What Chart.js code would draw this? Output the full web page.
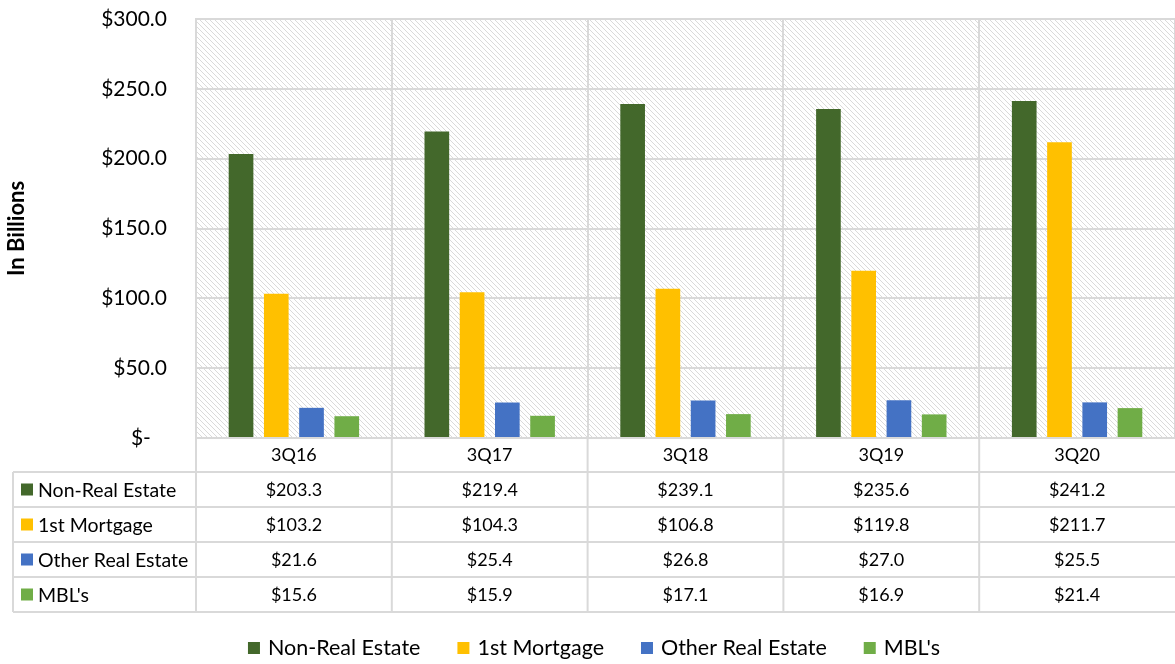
<!DOCTYPE html>
<html lang="en">
<head>
<meta charset="UTF-8">
<title>Loans by Type</title>
<script src="https://cdn.jsdelivr.net/npm/chart.js"></script>
<style>
  body { margin: 0; background: #fff; }
  #wrap { width: 1175px; height: 664px; position: relative; }
</style>
</head>
<body>
<div id="wrap"><canvas id="chart"></canvas></div>
<script>
const categories = ['3Q16', '3Q17', '3Q18', '3Q19', '3Q20'];
const seriesNames = ['Non-Real Estate', '1st Mortgage', 'Other Real Estate', "MBL's"];
const nonRealEstate = [203.3, 219.4, 239.1, 235.6, 241.2];
const firstMortgage = [103.2, 104.3, 106.8, 119.8, 211.7];
const otherRealEstate = [21.6, 25.4, 26.8, 27.0, 25.5];
const mbls = [15.6, 15.9, 17.1, 16.9, 21.4];
const yTicks = [0, 50, 100, 150, 200, 250, 300];

const colors = ['#43682b', '#ffc000', '#4472c4', '#70ad47'];
const gridColor = '#d9d9d9';
const FONT = 'Lato, "Open Sans", sans-serif';

// diagonal hatch for the plot area
const hatch = document.createElement('canvas');
hatch.width = 5; hatch.height = 5;
(function () {
    const g = hatch.getContext('2d');
    g.fillStyle = '#fff';
    g.fillRect(0, 0, 5, 5);
    g.fillStyle = '#dadada';
    for (let i = 0; i < 5; i++) g.fillRect(i, i, 1, 1);
})();

function line(ctx, x1, y1, x2, y2) {
    ctx.beginPath();
    ctx.moveTo(x1, y1);
    ctx.lineTo(x2, y2);
    ctx.stroke();
}

const money = v => '$' + v.toFixed(1);

const tablePlugin = {
    id: 'dataTable',
    beforeDraw(chart) {
        const { ctx, chartArea: a } = chart;
        ctx.save();
        ctx.fillStyle = ctx.createPattern(hatch, 'repeat');
        ctx.fillRect(a.left, a.top, a.right - a.left, a.bottom - a.top);
        ctx.restore();
    },
    afterDraw(chart) {
        const { ctx, chartArea: a } = chart;
        const x = chart.scales.x;
        const rowH = 35;
        const headBottom = a.bottom + 34;
        const tableLeft = 13;
        const tableBottom = headBottom + rowH * 4;
        const rows = [nonRealEstate, firstMortgage, otherRealEstate, mbls];

        ctx.save();
        ctx.strokeStyle = gridColor;
        ctx.lineWidth = 2;
        for (let r = 0; r <= 4; r++) {
            const y = headBottom + r * rowH;
            line(ctx, tableLeft, y, a.right, y);
        }
        line(ctx, tableLeft, headBottom, tableLeft, tableBottom);
        line(ctx, a.left, a.bottom, a.left, tableBottom);
        for (let i = 1; i < categories.length; i++) {
            const xb = (x.getPixelForValue(i - 1) + x.getPixelForValue(i)) / 2;
            line(ctx, xb, a.bottom, xb, tableBottom);
        }

        ctx.textBaseline = 'middle';
        rows.forEach((vals, r) => {
            const cy = headBottom + r * rowH + rowH / 2;
            ctx.fillStyle = colors[r];
            ctx.fillRect(21, cy - 6, 12, 12);
            ctx.fillStyle = '#000';
            ctx.textAlign = 'left';
            ctx.font = '19.5px ' + FONT;
            ctx.fillText(seriesNames[r], 38, cy + 1);
            ctx.textAlign = 'center';
            ctx.font = '18px ' + FONT;
            vals.forEach((v, i) => ctx.fillText(money(v), x.getPixelForValue(i), cy + 1));
        });

        // legend
        ctx.font = '21.5px ' + FONT;
        ctx.textAlign = 'left';
        const gapBox = 8, gapItem = 37, box = 12;
        const widths = seriesNames.map(n => box + gapBox + ctx.measureText(n).width);
        const total = widths.reduce((s, w) => s + w, 0) + gapItem * (widths.length - 1);
        let lx = 594 - total / 2;
        const ly = 648;
        seriesNames.forEach((n, i) => {
            ctx.fillStyle = colors[i];
            ctx.fillRect(lx, ly - 6, box, box);
            ctx.fillStyle = '#000';
            ctx.fillText(n, lx + box + gapBox, ly);
            lx += widths[i] + gapItem;
        });
        ctx.restore();
    }
};

const series = [nonRealEstate, firstMortgage, otherRealEstate, mbls];

new Chart(document.getElementById('chart').getContext('2d'), {
    type: 'bar',
    data: {
        labels: categories,
        datasets: series.map((d, i) => ({
            label: seriesNames[i],
            data: d,
            backgroundColor: colors[i],
            barPercentage: 0.70,
            categoryPercentage: 0.72
        }))
    },
    options: {
        responsive: true,
        maintainAspectRatio: false,
        animation: false,
        layout: { padding: { top: 19, right: 0, bottom: 52, left: 0 } },
        plugins: {
            legend: { display: false },
            tooltip: { enabled: false }
        },
        scales: {
            x: {
                grid: { color: gridColor, lineWidth: 2, offset: true, drawTicks: false },
                border: { color: gridColor, width: 2 },
                ticks: { color: '#000', font: { family: FONT, size: 18 }, padding: 6 },
                afterFit(s) { s.height = 174; }
            },
            y: {
                min: 0,
                max: 300,
                afterBuildTicks(s) { s.ticks = yTicks.map(v => ({ value: v })); },
                grid: { color: gridColor, lineWidth: 2, drawTicks: true, tickLength: 27, tickColor: 'transparent' },
                border: { color: gridColor, width: 2 },
                ticks: {
                    color: '#000',
                    font: { family: FONT, size: 21 },
                    padding: 2,
                    callback: v => v === 0 ? '$-   ' : money(v)
                },
                title: {
                    display: true,
                    text: 'In Billions',
                    color: '#000',
                    font: { family: FONT, size: 22, weight: 'bold' },
                    padding: { top: 4, bottom: 0 }
                },
                afterFit(s) { s.width = 196; }
            }
        }
    },
    plugins: [tablePlugin]
});
</script>
</body>
</html>
